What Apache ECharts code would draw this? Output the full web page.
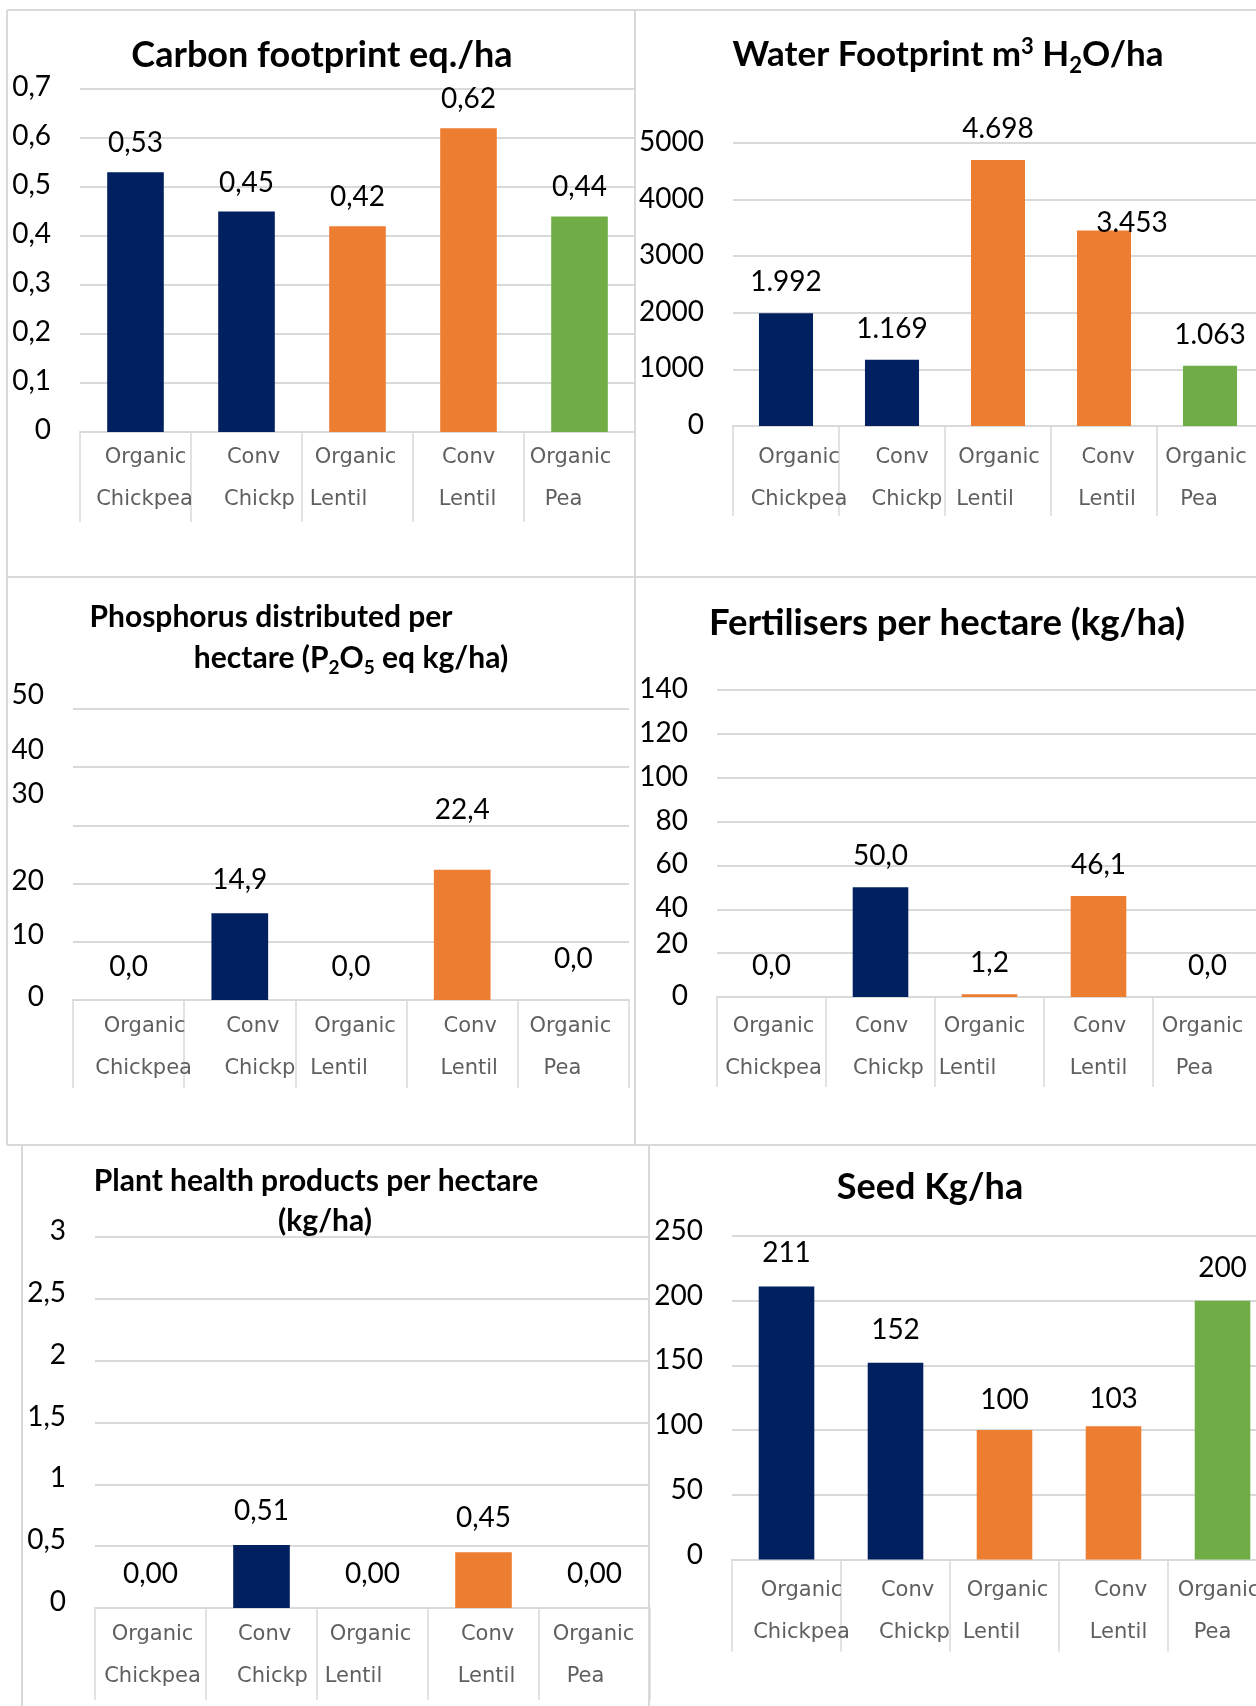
<!DOCTYPE html>
<html><head><meta charset="utf-8">
<script src="https://cdn.jsdelivr.net/npm/echarts@6/dist/echarts.min.js"></script>
<style>html,body{margin:0;padding:0;background:#fff;overflow:hidden}#c{width:1256px;height:1706px}</style>
</head><body><div id="c"></div>
<script>
const categories = ['Organic\nChickpea','Conv\nChickp','Organic\nLentil','Conv\nLentil','Organic\nPea'];
const carbonValues = [0.53,0.45,0.42,0.62,0.44];
const waterValues = [1992,1169,4698,3453,1063];
const phosphorusValues = [0,14.9,0,22.4,0];
const fertiliserValues = [0,50.0,1.2,46.1,0];
const plantHealthValues = [0,0.51,0,0.45,0];
const seedValues = [211,152,100,103,200];
const carbonTicks = ['0','0,1','0,2','0,3','0,4','0,5','0,6','0,7'];
const waterTicks = ['0','1000','2000','3000','4000','5000'];
const phosphorusTicks = ['0','10','20','30','40','50'];
const fertiliserTicks = ['0','20','40','60','80','100','120','140'];
const plantHealthTicks = ['0','0,5','1','1,5','2','2,5','3'];
const seedTicks = ['0','50','100','150','200','250'];

const NAVY='#002060', ORANGE='#ED7D31', GREEN='#70AD47';
const barColors=[NAVY,NAVY,ORANGE,ORANGE,GREEN];
const FONT='Lato';
function comma(v,d){return v.toFixed(d).replace('.',',');}
function dotThousands(v){return String(Math.round(v)).replace(/\B(?=(\d{3})+(?!\d))/g,'.');}

// horizontal nudges of the two lines of each category label (layout only)
const panels=[
 {values:carbonValues,ticks:carbonTicks,max:0.7,interval:0.1,grid:{left:80,top:89,width:555,height:343},fmt:v=>comma(v,2),dist:15,margin:5,tickLen:90,baseShift:-2,yShift:{},lblOff:{},
  xNudge:[[10,9],[7,13],[-2,-19],[0,-1],[-9,-16]]},
 {values:waterValues,ticks:waterTicks,max:5000,interval:1000,grid:{left:733,top:143,width:530,height:283},fmt:dotThousands,dist:17,margin:11,tickLen:90,baseShift:-1,yShift:{},lblOff:{3:[28,23]},
  xNudge:[[13,13],[10,15],[1,-13],[4,3],[-4,-11]]},
 {values:phosphorusValues,ticks:phosphorusTicks,max:50,interval:10,grid:{left:73,top:709,width:556,height:291},fmt:v=>comma(v,1),dist:19,margin:6,tickLen:88,baseShift:-3,yShift:{1:-4,3:-28,4:-14,5:-11},lblOff:{3:[0,-27],4:[0,-8]},
  xNudge:[[16,15],[13,20],[4,-12],[8,7],[-3,-11]]},
 {values:fertiliserValues,ticks:fertiliserTicks,max:140,interval:20,grid:{left:717,top:690,width:545,height:307},fmt:v=>comma(v,1),dist:17,margin:9,tickLen:90,baseShift:-1,yShift:{1:-8},lblOff:{},
  xNudge:[[2,2],[1,8],[-5,-22],[1,0],[-5,-13]]},
 {values:plantHealthValues,ticks:plantHealthTicks,max:3,interval:0.5,grid:{left:95,top:1237,width:555,height:371},fmt:v=>comma(v,2),dist:20,margin:6,tickLen:92,baseShift:-6,yShift:{},lblOff:{},
  xNudge:[[2,2],[3,11],[-2,-19],[4,3],[-1,-9]]},
 {values:seedValues,ticks:seedTicks,max:250,interval:50,grid:{left:732,top:1236,width:545,height:323.5},fmt:v=>String(Math.round(v)),dist:19,margin:10,tickLen:92,baseShift:-5,yShift:{},lblOff:{2:[0,3],3:[0,6]},
  xNudge:[[15,15],[12,19],[3,-13],[7,5],[-4,-10]]}
];

const XLBL={fontSize:21,fontFamily:'DejaVu Sans',color:'#5f5f5f',lineHeight:42};
function hpad(d){return d>=0?[0,0,0,2*d]:[0,-2*d,0,0];}

const option={animation:false,grid:[],xAxis:[],yAxis:[],series:[],graphic:[]};
panels.forEach((p,i)=>{
  option.grid.push(Object.assign({containLabel:false,outerBoundsMode:'none'},p.grid));
  const xrich={};
  p.xNudge.forEach((n,k)=>{
    xrich['c'+k+'a']=Object.assign({padding:hpad(n[0])},XLBL);
    xrich['c'+k+'b']=Object.assign({padding:hpad(n[1])},XLBL);
  });
  option.xAxis.push({type:'category',gridIndex:i,data:categories,
    axisLine:{lineStyle:{color:'#d9d9d9',width:2}},
    axisTick:{show:true,length:p.tickLen,lineStyle:{color:'#d9d9d9',width:1.5}},
    axisLabel:Object.assign({interval:0,margin:p.margin,hideOverlap:false,rich:xrich,
      formatter:(v,k)=>{const L=v.split('\n');return '{c'+k+'a|'+L[0]+'}\n{c'+k+'b|'+L[1]+'}';}},XLBL)});
  const rich={};
  p.ticks.forEach((t,k)=>{const s=p.baseShift+(p.yShift[k]||0);rich['p'+k]={padding:[0,0,-2*s,0],fontSize:28,fontFamily:FONT,color:'#000'};});
  option.yAxis.push({type:'value',gridIndex:i,min:0,max:p.max,interval:p.interval,
    axisLine:{show:false},axisTick:{show:false},
    splitLine:{lineStyle:{color:'#d9d9d9',width:2}},
    axisLabel:{margin:29,fontSize:28,fontFamily:FONT,color:'#000',rich:rich,
      formatter:v=>{const k=Math.round(v/p.interval);return '{p'+k+'|'+p.ticks[k]+'}';}}});
  option.series.push({type:'bar',xAxisIndex:i,yAxisIndex:i,barWidth:'51%',
    itemStyle:{color:c=>barColors[c.dataIndex]},
    label:{show:true,position:'top',distance:p.dist,fontSize:28,fontFamily:FONT,color:'#000',formatter:c=>p.fmt(c.value)},
    data:p.values.map((v,j)=>p.lblOff[j]?{value:v,label:{offset:p.lblOff[j]}}:v)});
});

// panel borders
const borders=[[7,10,1256,10],[7,577,1256,577],[7,1145,1256,1145],[7,10,7,1145],[635,10,635,1145],[22,1145,22,1706],[649,1145,649,1706]];
borders.forEach(b=>option.graphic.push({type:'line',z:-1,silent:true,shape:{x1:b[0],y1:b[1],x2:b[2],y2:b[3]},style:{stroke:'#d9d9d9',lineWidth:2}}));

function title(x,y,text,size,rich){
  const st={text:text,fontSize:size,fontWeight:'bold',fontFamily:FONT,fill:'#000',align:'center',verticalAlign:'middle'};
  if(rich) st.rich=rich;
  option.graphic.push({type:'text',x:x,y:y,style:st});
}
function supSubRich(size){
  return {
    a:{fontSize:size,fontWeight:'bold',fontFamily:FONT,fill:'#000',lineHeight:size+10},
    sup:{fontSize:Math.round(size*0.62),fontWeight:'bold',fontFamily:FONT,fill:'#000',lineHeight:Math.round(size*0.62),verticalAlign:'top',padding:[3,0,0,0]},
    sub:{fontSize:Math.round(size*0.62),fontWeight:'bold',fontFamily:FONT,fill:'#000',lineHeight:Math.round(size*0.62),verticalAlign:'bottom',padding:[0,0,1,0]}
  };
}
title(322,55,'Carbon footprint eq./ha',36);
title(948,55,'{a|Water Footprint m}{sup|3}{a| H}{sub|2}{a|O/ha}',35,supSubRich(35));
title(271,617,'Phosphorus distributed per',30);
title(351,658,'{a|hectare (P}{sub|2}{a|O}{sub|5}{a| eq kg/ha)}',30,supSubRich(30));
title(947,623,'Fertilisers per hectare (kg/ha)',36.5);
title(316,1181,'Plant health products per hectare',30);
title(325,1221,'(kg/ha)',30);
title(930,1187,'Seed Kg/ha',36);

const chart=echarts.init(document.getElementById('c'),null,{renderer:'canvas'});
chart.setOption(option);
</script></body></html>
